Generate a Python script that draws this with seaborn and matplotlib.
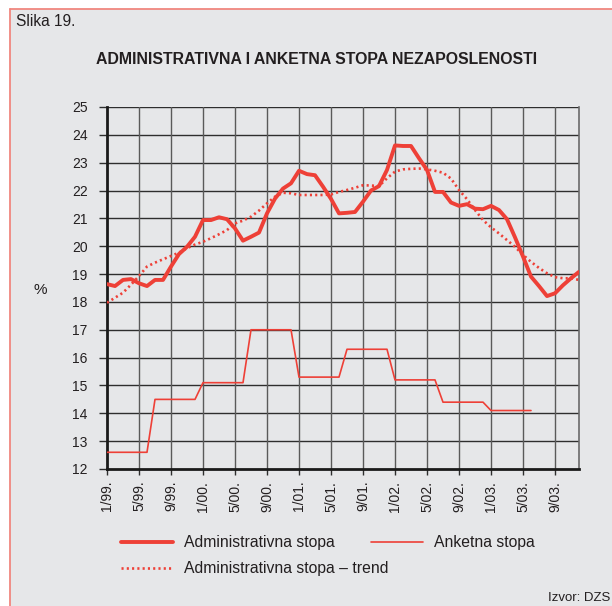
import numpy as np
import pandas as pd
import matplotlib
matplotlib.use("Agg")
import matplotlib.pyplot as plt
from matplotlib.lines import Line2D
from matplotlib.patches import Rectangle
import seaborn as sns

# mjesečni podaci 1/99. - 12/03.
mjeseci = list(range(60))

administrativna = [
    18.64, 18.57, 18.79, 18.82, 18.67, 18.57, 18.79, 18.79, 19.27, 19.72,
    19.98, 20.34, 20.94, 20.94, 21.04, 20.97, 20.64, 20.20, 20.34, 20.49,
    21.18, 21.71, 22.07, 22.26, 22.71, 22.59, 22.55, 22.14, 21.70, 21.18,
    21.20, 21.23, 21.60, 22.00, 22.16, 22.74, 23.62, 23.60, 23.60, 23.16,
    22.74, 21.95, 21.95, 21.57, 21.45, 21.51, 21.35, 21.33, 21.45, 21.30,
    20.97, 20.32, 19.63, 18.91, 18.57, 18.21, 18.31, 18.60, 18.85, 19.08,
]

trend = [
    17.97, 18.15, 18.33, 18.62, 18.93, 19.27, 19.41, 19.53, 19.65, 19.77,
    19.93, 20.06, 20.16, 20.29, 20.43, 20.58, 20.82, 20.92, 21.06, 21.28,
    21.54, 21.78, 21.92, 21.90, 21.84, 21.84, 21.84, 21.84, 21.86, 21.95,
    22.02, 22.10, 22.19, 22.18, 22.16, 22.44, 22.68, 22.76, 22.78, 22.79,
    22.76, 22.71, 22.64, 22.43, 22.02, 21.69, 21.30, 20.94, 20.68, 20.46,
    20.22, 19.98, 19.69, 19.44, 19.22, 19.03, 18.89, 18.85, 18.85, 18.79,
]

anketna = [
    12.6, 12.6, 12.6, 12.6, 12.6, 12.6, 14.5, 14.5, 14.5, 14.5,
    14.5, 14.5, 15.1, 15.1, 15.1, 15.1, 15.1, 15.1, 17.0, 17.0,
    17.0, 17.0, 17.0, 17.0, 15.3, 15.3, 15.3, 15.3, 15.3, 15.3,
    16.3, 16.3, 16.3, 16.3, 16.3, 16.3, 15.2, 15.2, 15.2, 15.2,
    15.2, 15.2, 14.4, 14.4, 14.4, 14.4, 14.4, 14.4, 14.1, 14.1,
    14.1, 14.1, 14.1, 14.1,
] + [np.nan] * 6

x_tickovi = [0, 4, 8, 12, 16, 20, 24, 28, 32, 36, 40, 44, 48, 52, 56]
x_oznake = ['1/99.', '5/99.', '9/99.', '1/00.', '5/00.', '9/00.', '1/01.', '5/01.',
            '9/01.', '1/02.', '5/02.', '9/02.', '1/03.', '5/03.', '9/03.']

df = pd.DataFrame({
    'mjesec': mjeseci,
    'administrativna': administrativna,
    'trend': trend,
    'anketna': anketna,
})

sns.set_theme(style='ticks')
plt.rcParams['font.family'] = ['Liberation Sans', 'DejaVu Sans']

crvena = '#ee4037'
pozadina = '#e6e7e9'
tekst = '#231f20'

fig = plt.figure(figsize=(6.12, 6.06), dpi=100)
fig.patch.set_facecolor('white')
W, H = 612, 606
fig.patches.append(Rectangle((9.5 / W, 0), 1, 1 - 8.5 / H, transform=fig.transFigure,
                             facecolor=pozadina, edgecolor='none', zorder=-2))
fig.lines.append(Line2D([9.5 / W, 1], [1 - 8.5 / H, 1 - 8.5 / H], transform=fig.transFigure,
                        color='#f0877f', lw=1.3, zorder=-1))
fig.lines.append(Line2D([9.5 / W, 9.5 / W], [0, 1 - 8.5 / H], transform=fig.transFigure,
                        color='#f0877f', lw=1.3, zorder=-1))

ax = fig.add_axes([107 / W, 1 - 469 / H, (579 - 107) / W, (469 - 107) / H])
ax.set_facecolor(pozadina)
ax.set_zorder(1)

sns.lineplot(data=df, x='mjesec', y='anketna', ax=ax, color=crvena, lw=1.2, zorder=3)
sns.lineplot(data=df, x='mjesec', y='trend', ax=ax, color=crvena, lw=1.9,
             linestyle=(0, (0.8, 1.2)), zorder=4)
sns.lineplot(data=df, x='mjesec', y='administrativna', ax=ax, color=crvena, lw=2.8, zorder=5)

ax.set_xlim(0, 59)
ax.set_ylim(12, 25)
ax.set_yticks(range(12, 26))
ax.set_xticks(x_tickovi)
ax.set_xticklabels(x_oznake, rotation=90)
ax.set_xlabel('')
ax.set_ylabel('')

for y in range(13, 26):
    ax.axhline(y, color='#2e2e2e', lw=1.0, zorder=1)
for x in x_tickovi[1:]:
    ax.axvline(x, color='#5a5a5a', lw=1.0, zorder=1)

for s in ['left', 'bottom']:
    ax.spines[s].set_linewidth(2.0)
    ax.spines[s].set_color('#1a1a1a')
ax.spines['top'].set_visible(False)
ax.spines['right'].set_color('#6a6a6a')
ax.spines['right'].set_linewidth(1.2)

ax.tick_params(axis='y', length=6, width=1.0, color='#2e2e2e', labelsize=10, pad=8,
               labelcolor=tekst)
ax.tick_params(axis='x', length=4.5, width=1.0, color='#2e2e2e', labelsize=10, pad=4,
               labelcolor=tekst)

fig.text(40 / W, 1 - 290 / H, '%', ha='center', va='center', fontsize=11, color=tekst)
fig.text(16 / W, 1 - 22 / H, 'Slika 19.', ha='left', va='center', fontsize=11.2, color=tekst)
fig.text(317 / W, 1 - 60 / H, 'ADMINISTRATIVNA I ANKETNA STOPA NEZAPOSLENOSTI',
         ha='center', va='center', fontsize=11.4, fontweight='bold', color=tekst)
fig.text(610 / W, 1 - 598 / H, 'Izvor: DZS', ha='right', va='center', fontsize=9.5, color=tekst)

h_adm = Line2D([], [], color=crvena, lw=2.8)
h_ank = Line2D([], [], color=crvena, lw=1.2)
h_tr = Line2D([], [], color=crvena, lw=1.9, linestyle=(0, (0.8, 1.2)))

leg1 = fig.legend([h_adm, h_ank], ['Administrativna stopa', 'Anketna stopa'], ncol=2,
                  loc='center left', bbox_to_anchor=(118 / W, 1 - 543 / H), frameon=False,
                  fontsize=11.3, handlelength=3.3, handletextpad=0.7, columnspacing=2.3,
                  borderaxespad=0, borderpad=0.2)
leg2 = fig.legend([h_tr], ['Administrativna stopa – trend'],
                  loc='center left', bbox_to_anchor=(118 / W, 1 - 569 / H), frameon=False,
                  fontsize=11.3, handlelength=3.3, handletextpad=0.7,
                  borderaxespad=0, borderpad=0.2)
for leg in (leg1, leg2):
    for t in leg.get_texts():
        t.set_color(tekst)

fig.savefig('out.png', dpi=100, facecolor=fig.get_facecolor())
